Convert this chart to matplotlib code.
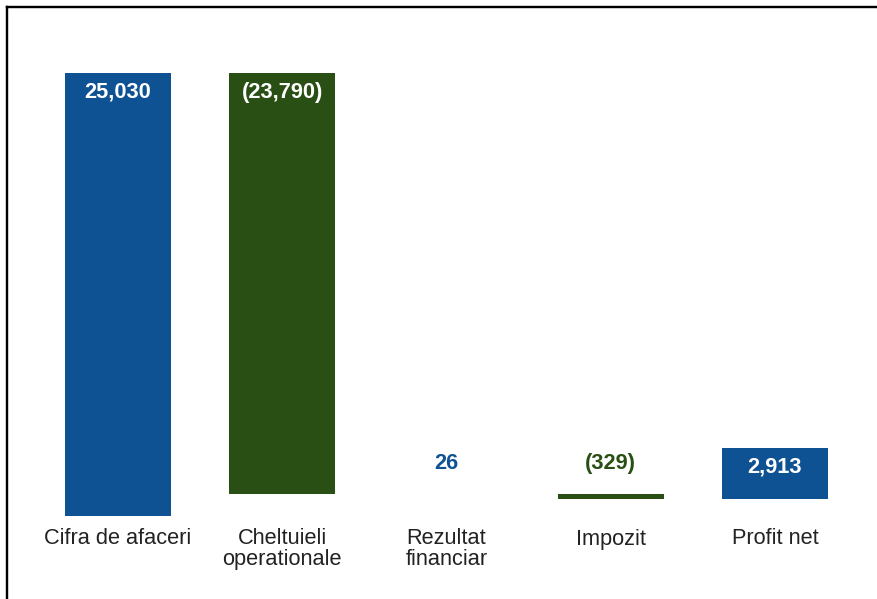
import matplotlib
matplotlib.use("Agg")
import matplotlib.pyplot as plt
from matplotlib.lines import Line2D

categories = ["Cifra de afaceri", "Cheltuieli\noperationale", "Rezultat\nfinanciar", "Impozit", "Profit net"]
values = [25030, -23790, 26, -329, 2913]
is_total = [False, False, False, False, True]

BLUE = "#0E5294"
GREEN = "#294F15"
TEXT = "#222222"

plt.rcParams['font.family'] = ['Liberation Sans', 'DejaVu Sans']

W, H = 877, 599
fig = plt.figure(figsize=(W / 100, H / 100), dpi=100)
fig.patch.set_facecolor("white")

# axes placement in pixels
left_px, right_px = 36, 857
base_px, top_px = 516, 73
ax = fig.add_axes([left_px / W, 1 - base_px / H, (right_px - left_px) / W, (base_px - top_px) / H])
ax.set_xlim(-0.5, len(categories) - 0.5)
ax.set_ylim(0, values[0])
for s in ax.spines.values():
    s.set_visible(False)
ax.set_yticks([])
ax.patch.set_alpha(0)

running = 0
for i, v in enumerate(values):
    if i == 0:
        bottom, height = 0, v
        running = v
    elif is_total[i]:
        bottom, height = running, v
    else:
        if v >= 0:
            bottom, height = running, v
        else:
            bottom, height = running + v, -v
        running += v
    color = BLUE if v >= 0 else GREEN
    ax.bar(i, height, bottom=bottom, width=0.645, color=color, clip_on=False)
    top = bottom + height
    label = f"{v:,}" if v >= 0 else f"({-v:,})"
    if height > 1500:
        ax.annotate(label, (i, top), xytext=(0, -14), textcoords="offset points",
                    ha="center", va="center", color="white", fontsize=15.7,
                    fontweight="bold", annotation_clip=False)
    else:
        ax.annotate(label, (i, top), xytext=(0, 22), textcoords="offset points",
                    ha="center", va="center", color=color, fontsize=15.7,
                    fontweight="bold", annotation_clip=False)

ax.set_xticks(range(len(categories)))
ax.set_xticklabels(categories, fontsize=15.7, color=TEXT, linespacing=0.95)
ax.tick_params(axis="x", length=0, pad=9)

# frame border
lw = 2.4 * 72 / 100
fig.add_artist(Line2D([7 / W, 1.0], [1 - 7 / H, 1 - 7 / H], transform=fig.transFigure,
                      color="black", linewidth=lw))
fig.add_artist(Line2D([7 / W, 7 / W], [0, 1 - 7 / H], transform=fig.transFigure,
                      color="black", linewidth=lw))

fig.savefig("out.png", dpi=100)
